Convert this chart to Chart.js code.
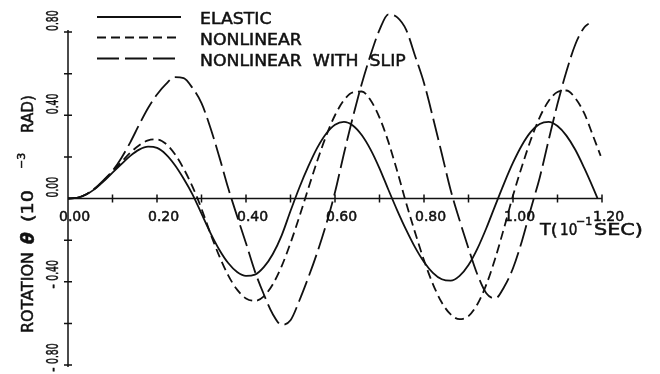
<!DOCTYPE html>
<html>
<head>
<meta charset="utf-8">
<script src="https://cdn.jsdelivr.net/npm/chart.js@4.4.1/dist/chart.umd.min.js"></script>
<style>
  html, body { margin: 0; padding: 0; background: #fff; }
  canvas { display: block; }
</style>
</head>
<body>
<canvas id="rotationChart" width="660" height="374"></canvas>
<script>
// time axis, units of 1e-1 s
const timeGrid = [0, 0.02, 0.04, 0.06, 0.08, 0.10, 0.12, 0.14, 0.16, 0.18,
  0.20, 0.22, 0.24, 0.26, 0.28, 0.30, 0.32, 0.34, 0.36, 0.38,
  0.40, 0.42, 0.44, 0.46, 0.48, 0.50, 0.52, 0.54, 0.56, 0.58,
  0.60, 0.62, 0.64, 0.66, 0.68, 0.70, 0.72, 0.74, 0.76, 0.78,
  0.80, 0.82, 0.84, 0.86, 0.88, 0.90, 0.92, 0.94, 0.96, 0.98,
  1.00, 1.02, 1.04, 1.06, 1.08, 1.10, 1.12, 1.14, 1.16, 1.18];

const tElastic = [...timeGrid, 1.19];
const tNonlinear = [...timeGrid, 1.197];
const tSlip = [...timeGrid.slice(0, 59), 1.17];

// rotation, units of 1e-3 rad
const elastic = [0, 0.003, 0.018, 0.045, 0.082, 0.124, 0.165, 0.205, 0.235, 0.249,
  0.243, 0.212, 0.161, 0.095, 0.019, -0.073, -0.165, -0.246, -0.310, -0.353,
  -0.372, -0.366, -0.330, -0.268, -0.178, -0.060, 0.053, 0.154, 0.243, 0.311,
  0.354, 0.368, 0.351, 0.305, 0.235, 0.145, 0.042, -0.058, -0.151, -0.235,
  -0.305, -0.357, -0.388, -0.395, -0.372, -0.320, -0.241, -0.143, -0.034, 0.073,
  0.172, 0.256, 0.320, 0.358, 0.368, 0.348, 0.302, 0.234, 0.147, 0.051, 0.0];

const nonlinear = [0, 0.003, 0.019, 0.047, 0.086, 0.130, 0.175, 0.220, 0.256, 0.279,
  0.284, 0.263, 0.214, 0.143, 0.056, -0.049, -0.168, -0.277, -0.369, -0.438,
  -0.480, -0.492, -0.470, -0.413, -0.326, -0.214, -0.087, 0.048, 0.180, 0.300,
  0.400, 0.472, 0.510, 0.514, 0.472, 0.389, 0.272, 0.130, -0.022, -0.164,
  -0.297, -0.411, -0.500, -0.557, -0.580, -0.565, -0.508, -0.414, -0.288, -0.141,
  0.014, 0.154, 0.282, 0.390, 0.468, 0.512, 0.519, 0.482, 0.410, 0.300, 0.205];

const withSlip = [0, 0.003, 0.019, 0.048, 0.088, 0.133, 0.195, 0.270, 0.355, 0.435,
  0.500, 0.550, 0.583, 0.578, 0.530, 0.458, 0.340, 0.200, 0.050, -0.085,
  -0.215, -0.350, -0.460, -0.555, -0.607, -0.585, -0.490, -0.380, -0.260, -0.125,
  0.030, 0.215, 0.390, 0.550, 0.690, 0.810, 0.885, 0.870, 0.810, 0.685,
  0.555, 0.390, 0.215, 0.040, -0.105, -0.240, -0.365, -0.455, -0.480, -0.425,
  -0.335, -0.205, -0.050, 0.100, 0.280, 0.455, 0.610, 0.740, 0.822, 0.840];

const xMinorTicks = [0.1, 0.2, 0.3, 0.4, 0.5, 0.6, 0.7, 0.8, 0.9, 1.0, 1.1, 1.2];
const xLabelTicks = [0, 0.2, 0.4, 0.6, 0.8, 1.0, 1.2];
const yTicks = [-0.8, -0.6, -0.4, -0.2, 0.2, 0.4, 0.6, 0.8];
const yLabelTicks = [-0.8, -0.4, 0, 0.4, 0.8];

const INK = '#111';
const FONT = '"DejaVu Sans", "Liberation Sans", sans-serif';

function toPoints(ts, vs) {
  return ts.map((t, i) => ({ x: t, y: vs[i] }));
}

// text with its own squeeze/stretch along the line, optionally turned to read upward
function putText(ctx, text, x, y, size, sx = 1, upright = false, weight = '') {
  ctx.save();
  ctx.translate(x, y);
  if (upright) ctx.rotate(-Math.PI / 2);
  ctx.scale(sx, 1);
  ctx.font = `${weight} ${size}px ${FONT}`;
  ctx.textAlign = 'left';
  ctx.textBaseline = 'alphabetic';
  ctx.lineWidth = 0.5;
  ctx.fillText(text, 0, 0);
  ctx.strokeText(text, 0, 0);
  ctx.restore();
}

const crossAxes = {
  id: 'crossAxes',
  afterDatasetsDraw(chart) {
    const { ctx, scales: { x, y } } = chart;
    const x0 = x.getPixelForValue(0);
    const y0 = y.getPixelForValue(0);
    ctx.save();
    ctx.strokeStyle = INK;
    ctx.fillStyle = INK;
    ctx.lineWidth = 1.5;
    ctx.setLineDash([]);
    ctx.beginPath();
    ctx.moveTo(x0, y.getPixelForValue(0.8) - 2);
    ctx.lineTo(x0, y.getPixelForValue(-0.8) + 2);
    ctx.moveTo(x0, y0);
    ctx.lineTo(x.getPixelForValue(1.2), y0);
    xMinorTicks.forEach(v => {
      const px = x.getPixelForValue(v);
      ctx.moveTo(px, y0 - 4);
      ctx.lineTo(px, y0 + 4);
    });
    yTicks.forEach(v => {
      const py = y.getPixelForValue(v);
      ctx.moveTo(x0 - 4, py);
      ctx.lineTo(x0 + 4, py);
    });
    ctx.stroke();

    xLabelTicks.forEach(v => {
      putText(ctx, v.toFixed(2), x.getPixelForValue(v) - 9, y0 + 22, 14);
    });

    // y labels read upward, digits start at the tick, minus sign hangs below
    yLabelTicks.forEach(v => {
      const py = y.getPixelForValue(v);
      const txt = Math.abs(v).toFixed(2);
      putText(ctx, txt, x0 - 10, py - 1, 16, 0.58, true);
      if (v < 0) putText(ctx, '-', x0 - 10, py + 7, 16, 0.8, true);
    });

    // x axis title
    putText(ctx, 'T(', 540, 235, 16, 1.1);
    putText(ctx, '10', 560, 235, 16, 0.85);
    putText(ctx, '\u22121', 576, 225, 11, 1.0);
    putText(ctx, 'SEC)', 594, 235, 16, 1.3);

    // y axis title
    putText(ctx, 'ROTATION', 33, 333, 16, 1.0, true);
    putText(ctx, '\u03b8', 34, 244, 17, 1.0, true, 'bold italic');
    putText(ctx, '(10', 33, 222, 16, 1.2, true);
    putText(ctx, '\u22123', 25, 169, 11, 1.0, true);
    putText(ctx, 'RAD)', 33, 133, 16, 0.95, true);
    ctx.restore();
  }
};

const lineLegend = {
  id: 'lineLegend',
  afterDraw(chart) {
    const { ctx } = chart;
    const rows = [17, 37.5, 58.5];
    ctx.save();
    ctx.strokeStyle = INK;
    ctx.fillStyle = INK;
    chart.data.datasets.forEach((ds, i) => {
      const yy = rows[i];
      ctx.lineWidth = ds.borderWidth;
      ctx.setLineDash(ds.borderDash || []);
      ctx.beginPath();
      ctx.moveTo(97, yy);
      ctx.lineTo(181, yy);
      ctx.stroke();
      ctx.setLineDash([]);
      putText(ctx, ds.label, 200, yy + 7, 16, 1.08);
    });
    ctx.restore();
  }
};

const seriesLine = (label, ts, vs, dash) => ({
  label,
  data: toPoints(ts, vs),
  borderColor: INK,
  borderWidth: 1.8,
  borderDash: dash,
  pointRadius: 0,
  fill: false,
  clip: false,
  cubicInterpolationMode: 'monotone'
});

new Chart(document.getElementById('rotationChart'), {
  type: 'line',
  data: {
    datasets: [
      seriesLine('ELASTIC', tElastic, elastic, []),
      seriesLine('NONLINEAR', tNonlinear, nonlinear, [9, 5]),
      seriesLine('NONLINEAR  WITH  SLIP', tSlip, withSlip, [22, 6])
    ]
  },
  options: {
    responsive: false,
    animation: false,
    devicePixelRatio: 1,
    layout: { padding: { left: 68, right: 58, top: 32, bottom: 9 } },
    plugins: { legend: { display: false }, tooltip: { enabled: false } },
    scales: {
      x: { type: 'linear', min: 0, max: 1.2, display: false },
      y: { type: 'linear', min: -0.8, max: 0.8, display: false }
    }
  },
  plugins: [crossAxes, lineLegend]
});
</script>
</body>
</html>
